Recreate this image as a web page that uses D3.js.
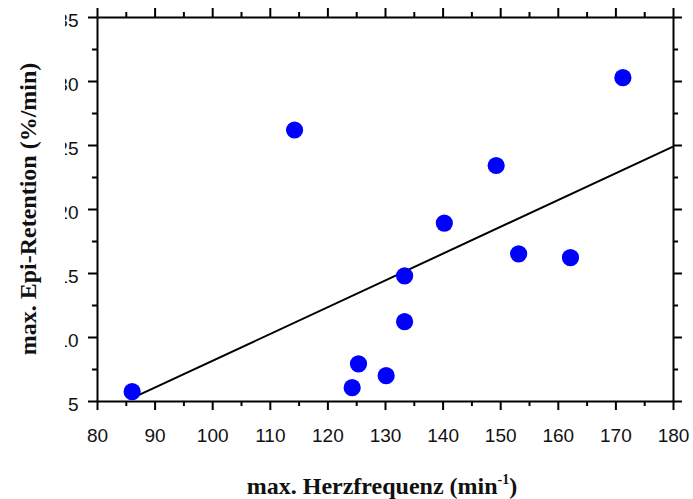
<!DOCTYPE html>
<html>
<head>
<meta charset="utf-8">
<script src="https://cdn.jsdelivr.net/npm/d3@7"></script>
<style>
  html, body { margin: 0; padding: 0; background: #fff; }
  svg { display: block; }
  .tick text { font-family: "Liberation Sans", Arial, sans-serif; fill: #111; }
  .title { font-family: "Liberation Serif", "Times New Roman", serif; font-weight: bold; fill: #111; }
</style>
</head>
<body>
<svg id="chart" width="693" height="499"></svg>
<script>
// Maximum heart rate (1/min) against maximum epinephrine retention (%/min)
const heartRate    = [86.1, 114.3, 124.3, 125.4, 130.2, 133.4, 133.4, 140.3, 149.3, 153.2, 162.2, 171.3];
const epiRetention = [5.73, 26.17, 6.04, 7.9, 6.98, 11.2, 14.77, 18.9, 23.4, 16.5, 16.2, 30.26];

// Linear regression line, endpoints
const fitX = [86, 180];
const fitY = [5.2, 24.87];

// Axis ticks
const xTicks = [80, 90, 100, 110, 120, 130, 140, 150, 160, 170, 180];
const xMinorTicks = [85, 95, 105, 115, 125, 135, 145, 155, 165, 175];
const yTicks = [5, 10, 15, 20, 25, 30, 35];
const yMinorTicks = [7.5, 12.5, 17.5, 22.5, 27.5, 32.5];

const svg = d3.select("#chart");
const plotL = 97, plotR = 673, plotT = 17, plotB = 401;

const x = d3.scaleLinear().domain([80, 180]).range([plotL, plotR]);
const y = d3.scaleLinear().domain([5, 35]).range([plotB, plotT]);

const labelFont = 19;

// The left tick labels are cut off on their left side
svg.append("defs").append("clipPath").attr("id", "ylabClip")
  .append("rect").attr("x", 65).attr("y", 0).attr("width", 700).attr("height", 499);

function styleAxis(g) {
  g.select(".domain").attr("stroke", "#000").attr("stroke-width", 2);
  g.selectAll(".tick line").attr("stroke", "#000").attr("stroke-width", 2);
}

// Minor ticks
function minor(axisFn, scale, vals, tr) {
  const g = svg.append("g").attr("transform", tr)
    .call(axisFn(scale).tickValues(vals).tickSize(5).tickFormat(""));
  g.select(".domain").remove();
  g.selectAll(".tick line").attr("stroke", "#000").attr("stroke-width", 2);
}
minor(d3.axisBottom, x, xMinorTicks, `translate(0,${plotB})`);
minor(d3.axisTop, x, xMinorTicks, `translate(0,${plotT})`);
minor(d3.axisLeft, y, yMinorTicks, `translate(${plotL},0)`);
minor(d3.axisRight, y, yMinorTicks, `translate(${plotR},0)`);

// Bottom axis with labels
const gx = svg.append("g").attr("transform", `translate(0,${plotB})`)
  .call(d3.axisBottom(x).tickValues(xTicks).tickSize(9).tickSizeOuter(0).tickPadding(19).tickFormat(d3.format("d")));
gx.selectAll("text").attr("font-size", labelFont);
styleAxis(gx);

// Top axis
const gt = svg.append("g").attr("transform", `translate(0,${plotT})`)
  .call(d3.axisTop(x).tickValues(xTicks).tickSize(9).tickSizeOuter(0).tickFormat(""));
styleAxis(gt);

// Left axis with labels, inside a clipped group
const clipWrap = svg.append("g").attr("clip-path", "url(#ylabClip)");
const gy = clipWrap.append("g").attr("transform", `translate(${plotL},0)`)
  .call(d3.axisLeft(y).tickValues(yTicks).tickSize(9).tickSizeOuter(0).tickPadding(9.5).tickFormat(d3.format("d")));
gy.selectAll("text").attr("font-size", labelFont).attr("dy", "0.52em");
styleAxis(gy);

// Right axis
const gr = svg.append("g").attr("transform", `translate(${plotR},0)`)
  .call(d3.axisRight(y).tickValues(yTicks).tickSize(9).tickSizeOuter(0).tickFormat(""));
styleAxis(gr);

// Regression line
svg.append("path")
  .datum(fitX.map((v, i) => [v, fitY[i]]))
  .attr("fill", "none").attr("stroke", "#000").attr("stroke-width", 2)
  .attr("d", d3.line().x(d => x(d[0])).y(d => y(d[1])));

// Data points
svg.append("g").selectAll("circle")
  .data(heartRate.map((v, i) => [v, epiRetention[i]]))
  .join("circle")
  .attr("cx", d => x(d[0])).attr("cy", d => y(d[1]))
  .attr("r", 8.6).attr("fill", "#0000ff");

// Axis titles
const xt = svg.append("text").attr("class", "title")
  .attr("x", 382).attr("y", 494).attr("text-anchor", "middle")
  .attr("font-size", 24);
xt.append("tspan").text("max. Herzfrequenz (min");
xt.append("tspan").attr("font-size", 14).attr("dy", -10).text("-1");
xt.append("tspan").attr("dy", 10).text(")");

svg.append("text").attr("class", "title")
  .attr("transform", "translate(36,209) rotate(-90)")
  .attr("text-anchor", "middle").attr("font-size", 24)
  .text("max. Epi-Retention (%/min)");
</script>
</body>
</html>
